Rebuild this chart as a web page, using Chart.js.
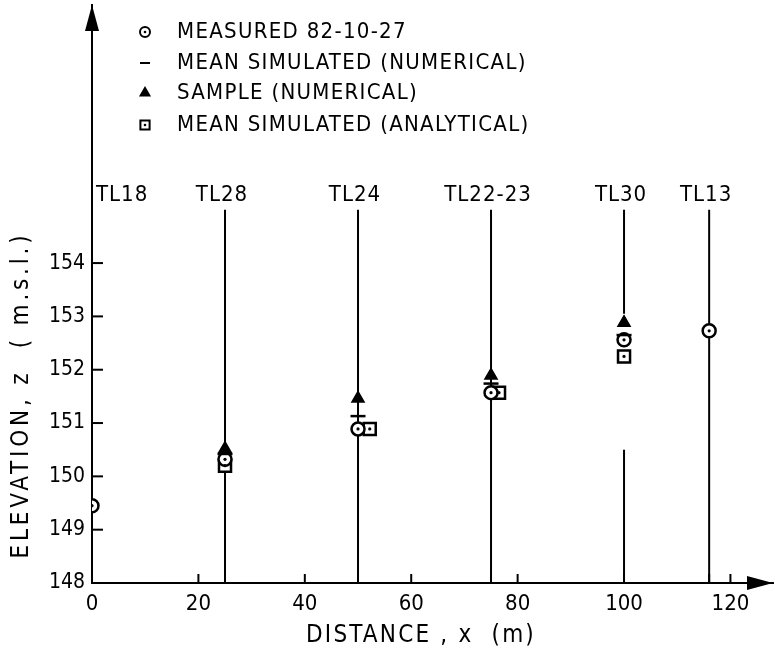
<!DOCTYPE html>
<html>
<head>
<meta charset="utf-8">
<script src="https://cdn.jsdelivr.net/npm/chart.js@4.4.1/dist/chart.umd.min.js"></script>
<style>
    body { margin: 0; background: #fff; }
    #wrap { width: 775px; height: 658px; position: relative; }
</style>
</head>
<body>
<div id="wrap"><canvas id="wellChart"></canvas></div>
<script>
// observation wells
const wells = ['TL18', 'TL28', 'TL24', 'TL22-23', 'TL30', 'TL13'];
const wellX = [0, 25, 50, 75, 100, 116];

// elevations (m.s.l.)
const measured = [149.45, 150.32, 150.89, 151.57, 152.56, 152.73];
const meanNumerical = [null, 150.42, 151.13, 151.74, 152.65, null];
const sampleNumerical = [null, 150.52, 151.46, 151.89, 152.88, null];
const meanAnalytical = [null, 150.2, 150.89, 151.57, 152.25, null];
const analyticalX = [null, 25, 52.2, 76.5, 100, null];

// well screens
const screenTop = 155;
const screenBottom = 148;
const tl30Gap = [153.05, 150.5];

// axes
const xTickLabels = [0, 20, 40, 60, 80, 100, 120];
const xTickMarks = [20, 25, 40, 50, 60, 75, 80, 100, 116, 120];
const yTickLabels = [148, 149, 150, 151, 152, 153, 154];

const legendLabels = ['MEASURED 82-10-27', 'MEAN SIMULATED (NUMERICAL)', 'SAMPLE (NUMERICAL)', 'MEAN SIMULATED (ANALYTICAL)'];

const FONT = "'DejaVu Sans Condensed', 'DejaVu Sans', sans-serif";

function pts(xs, ys) {
    return ys.map((y, i) => (y == null ? null : { x: xs[i], y: y })).filter(p => p);
}

// screen lines as line datasets
const screenSets = [];
wellX.forEach((x, i) => {
    if (i === 0) return;
    let data = [{ x: x, y: screenTop }, { x: x, y: screenBottom }];
    if (wells[i] === 'TL30') {
        data = [{ x: x, y: screenTop }, { x: x, y: tl30Gap[0] }, { x: x, y: null },
                { x: x, y: tl30Gap[1] }, { x: x, y: screenBottom }];
    }
    screenSets.push({
        label: wells[i] + ' screen', data: data, showLine: true, spanGaps: false,
        borderColor: '#000', borderWidth: 2, pointRadius: 0, order: 10
    });
});

const measuredSet = {
    label: legendLabels[0], data: pts(wellX, measured),
    pointStyle: 'circle', pointRadius: 6.5, pointBorderWidth: 2.5,
    pointBorderColor: '#000', pointBackgroundColor: '#fff', order: 3
};
const meanNumSet = {
    label: legendLabels[1], data: pts(wellX, meanNumerical),
    pointStyle: 'line', pointRadius: 7.5, pointBorderWidth: 2.5,
    pointBorderColor: '#000', order: 2
};
const sampleSet = {
    label: legendLabels[2], data: pts(wellX, sampleNumerical),
    pointStyle: 'triangle', pointRadius: 6.5, pointBorderWidth: 2,
    pointBorderColor: '#000', pointBackgroundColor: '#000', order: 3
};
const analyticalSet = {
    label: legendLabels[3], data: pts(analyticalX, meanAnalytical),
    pointStyle: 'rect', pointRadius: 8.5, pointBorderWidth: 2.5,
    pointBorderColor: '#000', pointBackgroundColor: '#fff', order: 4
};
// small centre dots of circles and squares
const dotSet = {
    label: 'dots', data: pts(wellX, measured).concat(pts(analyticalX, meanAnalytical)),
    pointStyle: 'circle', pointRadius: 1.6, pointBorderWidth: 0,
    pointBackgroundColor: '#000', order: 0
};

const decorPlugin = {
    id: 'decor',
    afterDraw(chart) {
        const ctx = chart.ctx;
        const xs = chart.scales.x, ys = chart.scales.y;
        const area = chart.chartArea;
        ctx.save();
        ctx.strokeStyle = '#000';
        ctx.fillStyle = '#000';
        ctx.lineWidth = 2;

        // tick marks inside the axes
        xTickMarks.forEach(v => {
            const px = xs.getPixelForValue(v);
            ctx.beginPath();
            ctx.moveTo(px, area.bottom);
            ctx.lineTo(px, area.bottom - 9);
            ctx.stroke();
        });
        yTickLabels.forEach(v => {
            if (v === 148) return;
            const py = ys.getPixelForValue(v);
            ctx.beginPath();
            ctx.moveTo(area.left, py);
            ctx.lineTo(area.left + 11, py);
            ctx.stroke();
        });

        // arrow heads
        ctx.beginPath();
        ctx.moveTo(area.left, area.top);
        ctx.lineTo(area.left - 7, area.top + 26);
        ctx.lineTo(area.left + 7, area.top + 26);
        ctx.closePath();
        ctx.fill();
        ctx.beginPath();
        ctx.moveTo(area.right, area.bottom);
        ctx.lineTo(area.right - 26, area.bottom - 7);
        ctx.lineTo(area.right - 26, area.bottom + 7);
        ctx.closePath();
        ctx.fill();

        // well names
        ctx.font = '22px ' + FONT;
        ctx.letterSpacing = '1px';
        ctx.textBaseline = 'middle';
        wells.forEach((w, i) => {
            const px = xs.getPixelForValue(wellX[i]);
            ctx.textAlign = i === 0 ? 'left' : 'center';
            ctx.fillText(w, i === 0 ? px + 4 : px - 3, ys.getPixelForValue(155.27));
        });

        // legend
        const styles = [measuredSet, meanNumSet, sampleSet, analyticalSet];
        const rowY = [32, 63, 93, 125];
        ctx.font = '22px ' + FONT;
        ctx.letterSpacing = '1.3px';
        ctx.textAlign = 'left';
        styles.forEach((ds, i) => {
            ctx.lineWidth = 2;
            ctx.fillStyle = ds.pointBackgroundColor || '#000';
            ctx.strokeStyle = '#000';
            Chart.helpers.drawPoint(ctx, {
                pointStyle: ds.pointStyle, radius: ds.pointStyle === 'rect' ? 6.5 : 5,
                rotation: 0, borderWidth: 2
            }, 145, rowY[i]);
            ctx.fillStyle = '#000';
            if (ds.pointStyle === 'circle' || ds.pointStyle === 'rect') {
                ctx.beginPath();
                ctx.arc(145, rowY[i], 1.3, 0, Math.PI * 2);
                ctx.fill();
            }
            ctx.fillText(ds.label, 177, rowY[i]);
        });

        // axis titles
        ctx.font = '24px ' + FONT;
        ctx.letterSpacing = '2.2px';
        ctx.textAlign = 'center';
        ctx.fillText('DISTANCE , x  (m)', 421, 636);
        ctx.letterSpacing = '3.8px';
        ctx.translate(22, 395);
        ctx.rotate(-Math.PI / 2);
        ctx.fillText('ELEVATION, z  ( m.s.l.)', 0, 0);
        ctx.restore();
    }
};

function noPad(s) {
    s.paddingTop = 0; s.paddingBottom = 0; s.paddingLeft = 0; s.paddingRight = 0;
}

document.addEventListener('DOMContentLoaded', () => {
    const ctx = document.getElementById('wellChart').getContext('2d');
    new Chart(ctx, {
        type: 'scatter',
        data: {
            datasets: [dotSet, meanNumSet, measuredSet, sampleSet, analyticalSet].concat(screenSets)
        },
        options: {
            responsive: true,
            maintainAspectRatio: false,
            animation: false,
            layout: { autoPadding: false, padding: { top: 5, right: 2, left: 0, bottom: 0 } },
            plugins: {
                legend: { display: false },
                tooltip: { enabled: false }
            },
            scales: {
                x: {
                    type: 'linear', min: 0, max: 128,
                    afterBuildTicks: s => { s.ticks = xTickLabels.map(v => ({ value: v })); },
                    afterFit: s => { s.height = 75; noPad(s); },
                    grid: { display: false, drawTicks: false },
                    border: { display: true, color: '#000', width: 2 },
                    ticks: {
                        color: '#000', padding: 8, maxRotation: 0,
                        font: { family: FONT, size: 22 }
                    }
                },
                y: {
                    type: 'linear', min: 148, max: 158.84,
                    afterBuildTicks: s => { s.ticks = yTickLabels.map(v => ({ value: v })); },
                    afterFit: s => { s.width = 92; noPad(s); },
                    grid: { display: false, drawTicks: false },
                    border: { display: true, color: '#000', width: 2 },
                    ticks: {
                        color: '#000', padding: 7,
                        font: { family: FONT, size: 21 }
                    }
                }
            }
        },
        plugins: [decorPlugin]
    });
});
</script>
</body>
</html>
